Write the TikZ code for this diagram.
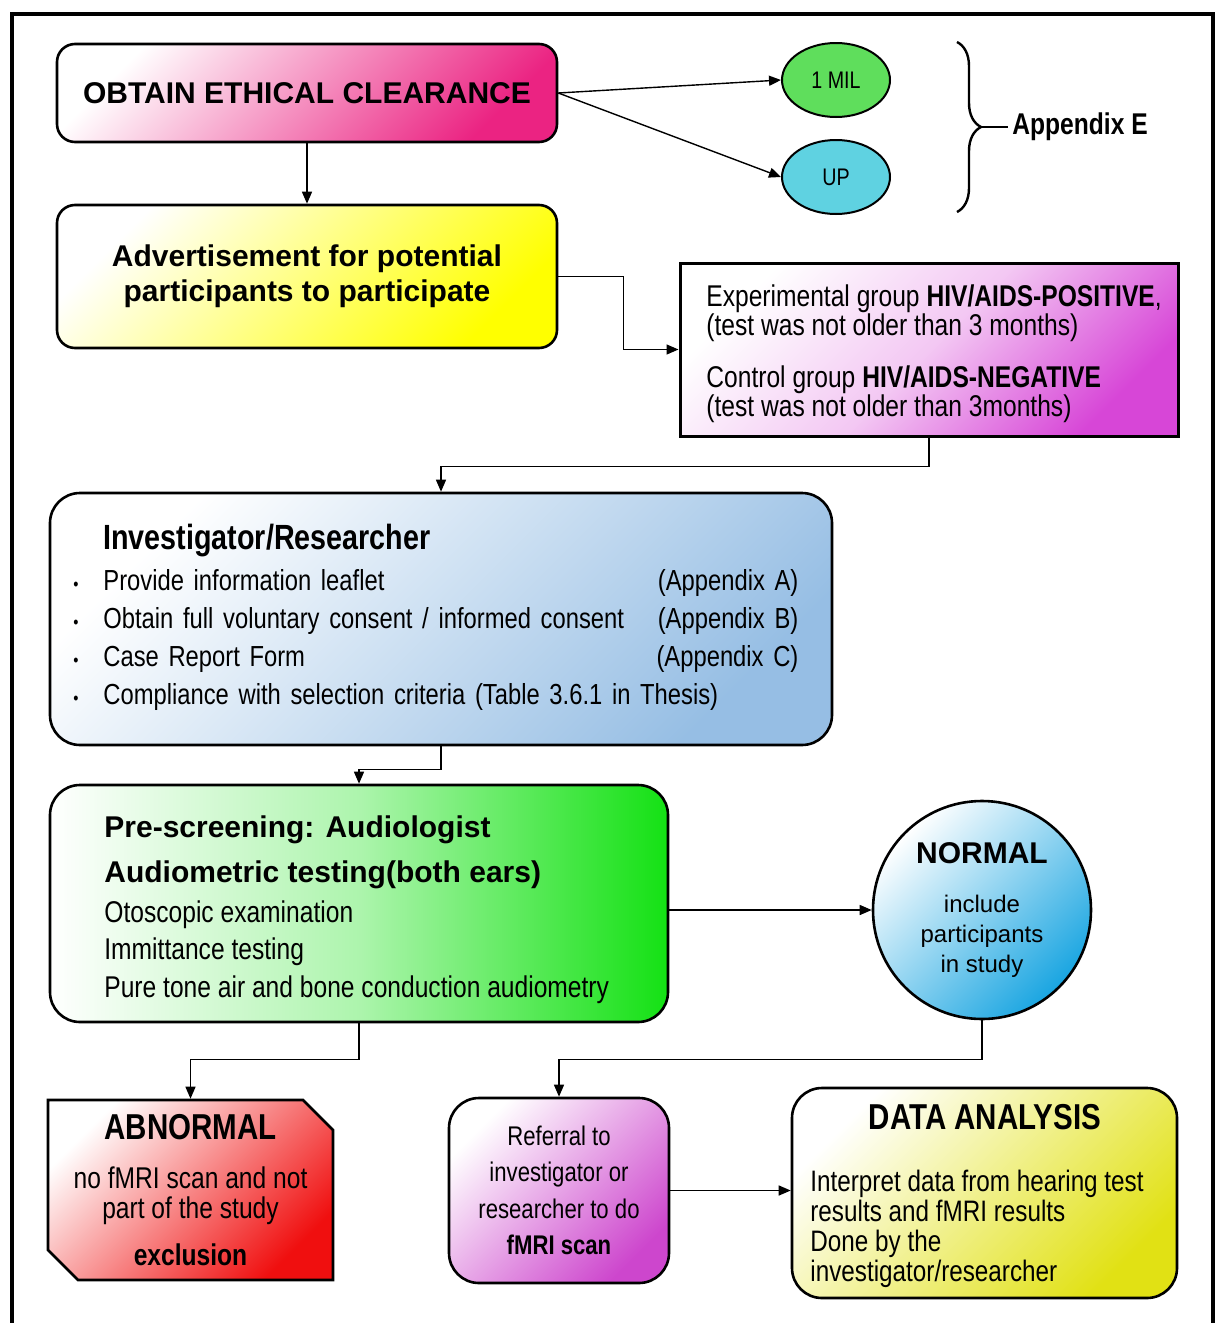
\documentclass[tikz,border=0pt]{standalone}
\usepackage{fontspec}
\setmainfont{Liberation Sans}
\newfontfamily\narrow{Liberation Sans}[FakeStretch=0.82]
\usepackage{tikz}
\usetikzlibrary{arrows.meta,shapes.geometric,shapes.misc,decorations.pathreplacing}

\definecolor{ethicpink}{RGB}{235,35,130}
\definecolor{advyellow}{RGB}{255,255,0}
\definecolor{milgreen}{RGB}{95,222,92}
\definecolor{upcyan}{RGB}{95,210,225}
\definecolor{grpmag}{RGB}{215,70,215}
\definecolor{invblue}{RGB}{150,190,228}
\definecolor{prgreen}{RGB}{20,225,20}
\definecolor{normblue}{RGB}{25,165,225}
\definecolor{abred}{RGB}{240,15,15}
\definecolor{refmag}{RGB}{205,70,205}
\definecolor{datayel}{RGB}{225,225,20}

\begin{document}
\begin{tikzpicture}[x=0.5pt, y=-0.5pt,
    box/.style={draw, line width=1.3pt, rounded corners=9pt, inner sep=0pt},
    link/.style={->, line width=0.7pt, >={Triangle[length=6pt,width=5pt]}}]
  \useasboundingbox (0,0) rectangle (1225,1323);
  \draw[line width=2.3pt] (12,1340) -- (12,14) -- (1213,14) -- (1213,1340);

  % top row
  \node[box, top color=white, bottom color=ethicpink, shading angle=45,
        minimum width=250pt, minimum height=49pt,
        font=\bfseries\fontsize{15}{17}\selectfont] (ethics) at (307,93)
        {OBTAIN ETHICAL CLEARANCE};
  \node[box, top color=white, bottom color=advyellow, shading angle=45,
        minimum width=250pt, minimum height=71.5pt, align=center,
        font=\bfseries\fontsize{15}{17.5}\selectfont] (advert) at (307,276.5)
        {Advertisement for potential\\participants to participate};
  \node[ellipse, draw, line width=1pt, fill=milgreen, minimum width=54pt,
        minimum height=37pt, inner sep=0pt,
        font=\narrow\fontsize{12}{14}\selectfont] (mil) at (836,80) {1 MIL};
  \node[ellipse, draw, line width=1pt, fill=upcyan, minimum width=54pt,
        minimum height=37pt, inner sep=0pt,
        font=\narrow\fontsize{12}{14}\selectfont] (up) at (836,177) {UP};
  \draw[line width=1.2pt, decorate, decoration={brace, amplitude=12pt}]
        (957,42) -- (957,212);
  \coordinate (bracetip) at (981,127);
  \node[anchor=west, inner sep=2pt,
        font=\narrow\bfseries\fontsize{15}{15}\selectfont] (appE) at (1008,127)
        {Appendix E};
  \draw[line width=0.9pt] (bracetip) -- (appE.west);

  % groups
  \node[draw, line width=1.5pt, inner sep=0pt, top color=white,
        bottom color=grpmag, middle color=grpmag!30!white, shading angle=45,
        minimum width=249pt, minimum height=86.5pt] (groups) at (929,349.5) {};
  \node[anchor=north west, inner sep=0pt, align=left,
        font=\narrow\fontsize{15}{14.5}\selectfont] (grouptxt) at (706,284)
        {Experimental group \textbf{HIV/AIDS-POSITIVE},\\
         (test was not older than 3 months)\\[11.5pt]
         Control group \textbf{HIV/AIDS-NEGATIVE}\\
         (test was not older than 3months)};

  % investigator
  \node[box, rounded corners=15pt, top color=white, bottom color=invblue,
        shading angle=45, minimum width=391pt, minimum height=126pt]
        (invest) at (441,619) {};
  \node[anchor=north west, inner sep=0pt, align=left, text width=362.5pt,
        font=\narrow\fontsize{14.5}{19}\selectfont] (investtxt) at (73,524)
        {\hspace*{15pt}{\bfseries\fontsize{17.5}{19}\selectfont Investigator/Researcher}\\[1.5pt]
         \makebox[15pt][l]{\small\textbullet}Provide information leaflet\hfill(Appendix A)\\
         \makebox[15pt][l]{\small\textbullet}Obtain full voluntary consent / informed consent\hfill(Appendix B)\\
         \makebox[15pt][l]{\small\textbullet}Case Report Form\hfill(Appendix C)\\
         \makebox[15pt][l]{\small\textbullet}Compliance with selection criteria (Table 3.6.1 in Thesis)};

  % pre-screening
  \node[box, rounded corners=15pt, left color=white, right color=prgreen,
        middle color=prgreen!35!white, minimum width=309pt,
        minimum height=118.5pt] (prescreen) at (359,903.5) {};
  \node[anchor=north west, inner sep=0pt, align=left,
        font=\narrow\fontsize{15}{18.75}\selectfont] (prescreentxt) at (104,815)
        {{\bfseries\fontsize{15}{18.75}\selectfont\rmfamily Pre-screening: Audiologist}\\[3.75pt]
         {\bfseries\fontsize{15}{18.75}\selectfont\rmfamily Audiometric testing(both ears)}\\[1.25pt]
         Otoscopic examination\\
         Immittance testing\\
         Pure tone air and bone conduction audiometry};
  \node[circle, draw, line width=1.3pt, top color=white, bottom color=normblue,
        shading angle=45, minimum size=109pt, inner sep=0pt, align=center,
        font=\fontsize{12}{15}\selectfont] (normal) at (982,910)
        {{\bfseries\fontsize{15}{15}\selectfont NORMAL}\\[9.5pt]
         include\\participants\\in study};

  % bottom row
  \node[chamfered rectangle, chamfered rectangle corners={north east, south west},
        chamfered rectangle xsep=11.5pt, draw, line width=1.3pt,
        top color=white, bottom color=abred, shading angle=45,
        minimum width=142.5pt, minimum height=90pt, inner sep=0pt, align=center,
        font=\narrow\fontsize{15}{15}\selectfont] (abnormal) at (190.5,1190)
        {{\bfseries\fontsize{18}{15}\selectfont ABNORMAL}\\[9.5pt]
         no fMRI scan and not\\part of the study\\[8.5pt]
         {\bfseries\fontsize{15}{15}\selectfont exclusion}};
  \node[box, rounded corners=15pt, top color=white, bottom color=refmag,
        shading angle=45, minimum width=110pt, minimum height=92.5pt,
        align=center, font=\narrow\fontsize{13.5}{18.25}\selectfont]
        (referral) at (559,1190.5)
        {Referral to\\investigator or\\researcher to do\\\textbf{fMRI scan}};
  \node[box, rounded corners=15pt, top color=white, bottom color=datayel,
        shading angle=45, minimum width=192.5pt, minimum height=105pt]
        (data) at (984.5,1193) {};
  \node[font=\narrow\bfseries\fontsize{18}{18}\selectfont] (datatitle)
        at (985,1117) {DATA ANALYSIS};
  \node[anchor=north west, inner sep=0pt, align=left,
        font=\narrow\fontsize{14.8}{15}\selectfont] (datatxt) at (810,1170)
        {Interpret data from hearing test\\results and fMRI results\\
         Done by the\\investigator/researcher};

  % connectors
  \draw[link] (ethics.south) -- (advert.north);
  \draw[link] (ethics.east) -- (mil.west);
  \draw[link] (ethics.east) -- (up.west);
  \draw[link] (advert.east) -- ++(65,0) |- (groups.west);
  \draw[link] (groups.south) -- ++(0,29) -| (invest.north);
  \draw[link] (invest.south) -- ++(0,23) -| (prescreen.north);
  \draw[link] (normal.west -| prescreen.east) -- (normal.west);
  \draw[link] (prescreen.south) -- ++(0,36) -| (abnormal.north);
  \draw[link] (normal.south) -- ++(0,39) -| (referral.north);
  \draw[link] (referral.east) -- (referral.east -| data.west);
\end{tikzpicture}
\end{document}
